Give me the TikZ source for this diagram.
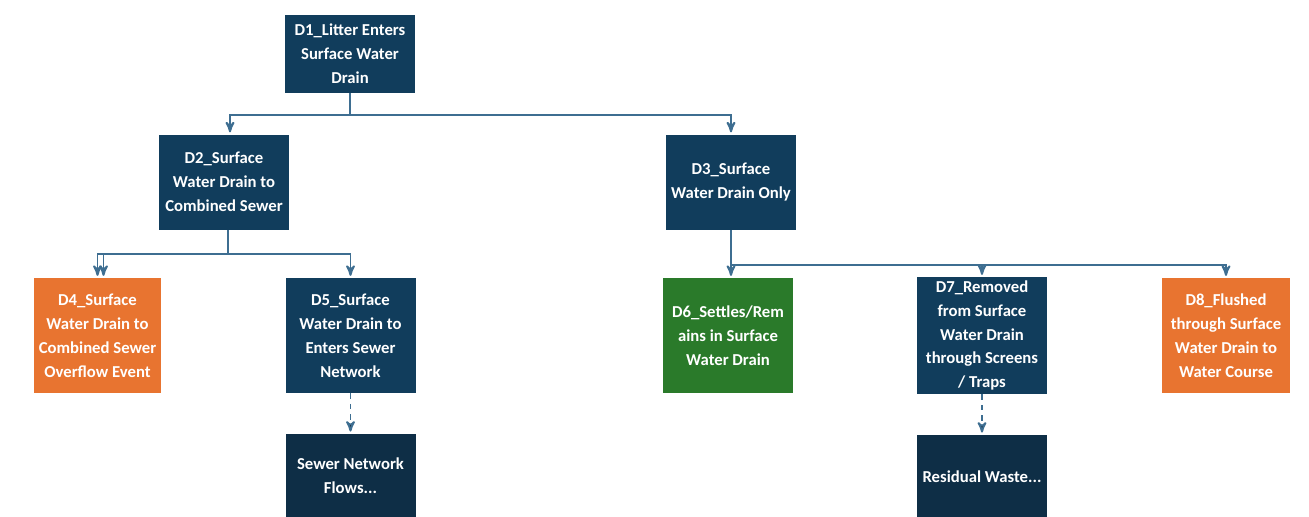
\documentclass[tikz,border=0pt]{standalone}
\usepackage{fontspec}
\setmainfont{Carlito}
\usepackage{xcolor}
\usetikzlibrary{positioning}
\usetikzlibrary{arrows}

\definecolor{navy}{RGB}{17,61,92}
\definecolor{deepnavy}{RGB}{14,46,70}
\definecolor{drainorange}{RGB}{232,116,48}
\definecolor{draingreen}{RGB}{42,122,42}
\definecolor{linkblue}{RGB}{62,110,145}

\begin{document}
\begin{tikzpicture}[>=stealth',shorten >=1pt,
                    box/.style={rectangle,draw=none,text=white,align=center,inner sep=2pt,
                                font=\fontsize{9.5}{13.6}\selectfont\bfseries,minimum width=2.6cm},
                    navy node/.style={box,fill=navy},
                    deep node/.style={box,fill=deepnavy,minimum height=1.68cm},
                    orange node/.style={box,fill=drainorange,minimum height=2.3cm},
                    green node/.style={box,fill=draingreen,minimum height=2.3cm},
                    link/.style={draw=linkblue,line width=1.1pt}]
      \useasboundingbox (0,0) rectangle (26.18,-10.32);
      \clip (0,0) rectangle (26.18,-10.32);

      \node[navy node, minimum height=1.56cm] (d1) at (7.00,-1.08) {D1\_Litter Enters\\Surface Water\\Drain};
      \node[navy node, minimum height=1.9cm] (d2) at (4.48,-3.64) {D2\_Surface\\Water Drain to\\Combined Sewer};
      \node[navy node, minimum height=1.9cm] (d3) at (14.62,-3.64) {D3\_Surface\\Water Drain Only};

      \node[orange node, minimum width=2.54cm] (d4) at (1.95,-6.71) {D4\_Surface\\Water Drain to\\Combined Sewer\\Overflow Event};
      \node[navy node, minimum height=2.3cm] (d5) at (7.01,-6.71) {D5\_Surface\\Water Drain to\\Enters Sewer\\Network};
      \node[green node] (d6) at (14.56,-6.71) {D6\_Settles/Rem\\ains in Surface\\Water Drain};
      \node[navy node, minimum height=2.3cm] (d7) at (19.64,-6.71) {D7\_Removed\\from Surface\\Water Drain\\through Screens\\/ Traps};
      \node[orange node, minimum width=2.56cm] (d8) at (24.52,-6.71) {D8\_Flushed\\through Surface\\Water Drain to\\Water Course};

      \node[deep node] (sewer) [below=0.8cm of d5] {Sewer Network\\Flows...};
      \node[deep node] (residual) [below=0.8cm of d7] {Residual Waste...};

      % first split
      \draw[link,->] (d1.south) -- ++(0,-0.44) -| ([xshift=0.12cm]d2.north);
      \draw[link,->] (d1.south) -- ++(0,-0.44) -| (d3.north);

      % combined sewer branch
      \draw[link,->] ([xshift=0.08cm]d2.south) -- ++(0,-0.48) -| (d4.north);
      \draw[link,->] ([xshift=0.08cm]d2.south) -- ++(0,-0.48) -| ([xshift=0.12cm]d4.north);
      \draw[link,->] ([xshift=0.08cm]d2.south) -- ++(0,-0.48) -| (d5.north);

      % surface water only branch
      \draw[link,->] (d3.south) -- (d3.south |- d6.north);
      \draw[link,->] (d3.south) -- ++(0,-0.70) -| (d7.north);
      \draw[link,->] (d3.south) -- ++(0,-0.70) -| (d8.north);

      \path[link,->]
	(d5) edge [dashed] (sewer)
	(d7) edge [dashed] (residual);
    \end{tikzpicture}
\end{document}
